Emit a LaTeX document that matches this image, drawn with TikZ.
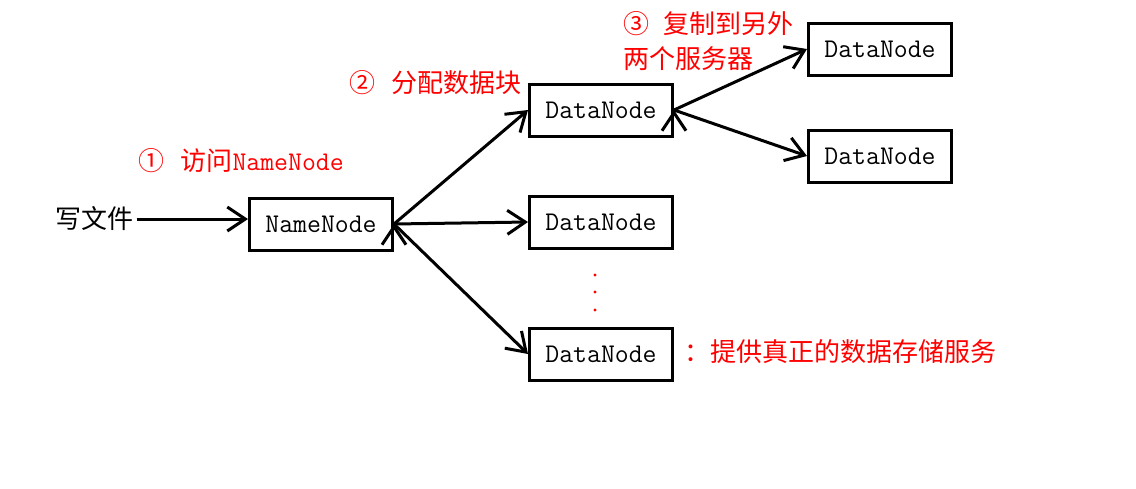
\documentclass[tikz,border=0pt]{standalone}
\usepackage{fontspec}
\setmainfont{Noto Sans CJK SC}
\usepackage{tikz}
\usetikzlibrary{positioning,arrows.meta}
\tikzstyle{server} = [draw, minimum width=143pt, minimum height=52pt, inner sep=0pt, font={\fontsize{27}{35}\selectfont\ttfamily}]
\tikzstyle{note} = [text=red, inner sep=0pt, anchor=west]

\begin{document}
\begin{tikzpicture}[x=1pt, y=-1pt, font=\fontsize{26}{35}\selectfont, line width=3pt, >={Straight Barb[length=18pt,width=24pt]}]
			\useasboundingbox (0,0) rectangle (1136,488);
			\node[inner sep=2pt] (w) at (94,219) {写文件};
			\node[server] (nn) at (321,224) {NameNode};
			\node[server] (d1) at (601,110) {DataNode};
			\node[server] (d2) at (601,222) {DataNode};
			\node[server] (d3) at (601,354) {DataNode};
			\node[server] (d4) at (880,49) {DataNode};
			\node[server] (d5) at (880,156) {DataNode};
			\node[note] (l1) at (137,161) {①\hspace{16pt}访问\texttt{\fontsize{27}{35}\selectfont NameNode}};
			\node[note] (l2) at (348,83) {②\hspace{16pt}分配数据块};
			\node[note, align=left] (l3) at (622,41) {③\hspace{14pt}复制到另外\\两个服务器};
			\node[note] (l4) at (683,352) {：提供真正的数据存储服务};
			\foreach \y in {275,292,310} \fill[red] (595,\y) circle (1.6pt);
			\draw[->] (w.east) -- (w.east -| nn.west);
			\draw[->] (nn.east) edge (d1.west) edge (d2.west) edge (d3.west);
			\draw[->] (d1.east) edge (d4.west) edge (d5.west);
		\end{tikzpicture}
\end{document}
